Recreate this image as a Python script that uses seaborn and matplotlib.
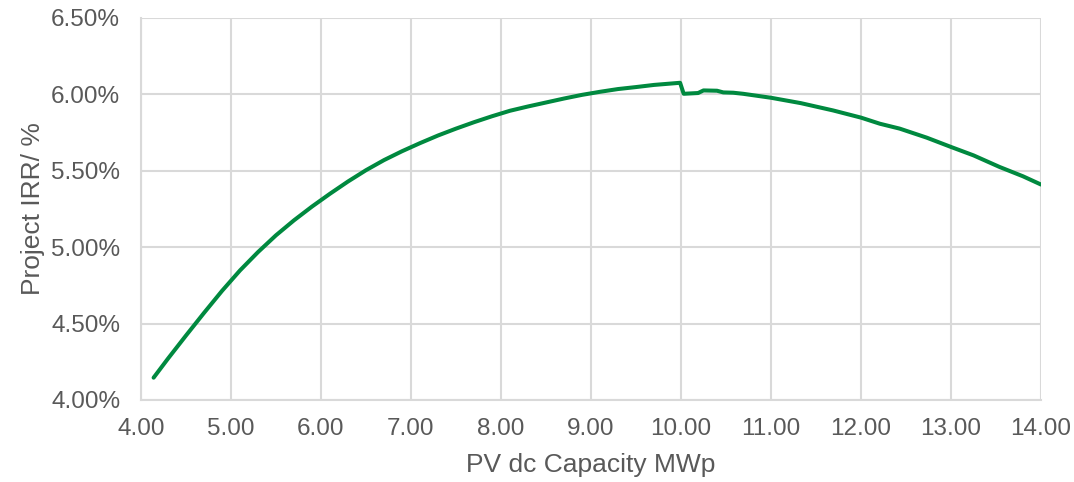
import matplotlib
matplotlib.use("Agg")
import matplotlib.pyplot as plt
import matplotlib.ticker as mticker
import seaborn as sns
import pandas as pd

capacity_mwp = [4.14, 4.30, 4.50, 4.70, 4.90, 5.10, 5.30, 5.50, 5.70, 5.90,
                6.10, 6.30, 6.50, 6.70, 6.90, 7.10, 7.30, 7.50, 7.70, 7.90,
                8.10, 8.30, 8.50, 8.70, 8.90, 9.10, 9.30, 9.50, 9.70, 9.99,
                10.03, 10.19, 10.25, 10.40, 10.47, 10.58, 10.69, 11.00, 11.33,
                11.69, 12.00, 12.21, 12.43, 12.73, 13.00, 13.25, 13.54, 13.80,
                14.00]
irr_pct = [4.146, 4.271, 4.422, 4.570, 4.714, 4.848, 4.968, 5.078, 5.176, 5.266,
           5.350, 5.430, 5.504, 5.570, 5.628, 5.681, 5.731, 5.776, 5.818, 5.857,
           5.893, 5.921, 5.947, 5.973, 5.997, 6.017, 6.035, 6.048, 6.062, 6.076,
           6.004, 6.009, 6.026, 6.024, 6.013, 6.011, 6.004, 5.978, 5.943,
           5.895, 5.848, 5.808, 5.776, 5.717, 5.656, 5.601, 5.525, 5.464,
           5.410]

x_ticks = [4, 5, 6, 7, 8, 9, 10, 11, 12, 13, 14]
y_ticks = [4.0, 4.5, 5.0, 5.5, 6.0, 6.5]

df = pd.DataFrame({"cap": capacity_mwp, "irr": irr_pct})

sns.set_theme(style="white")
plt.rcParams['font.family'] = ['Liberation Sans', 'DejaVu Sans']

text_color = "#595959"
grid_color = "#d9d9d9"

fig = plt.figure(figsize=(10.74, 4.82), dpi=100)
ax = fig.add_axes([141/1074, 1 - 400/482, 900/1074, 382/482])

sns.lineplot(data=df, x="cap", y="irr", ax=ax, color="#00893f", linewidth=2.9,
             solid_capstyle="round", solid_joinstyle="round")

ax.set_xlim(4, 14)
ax.set_ylim(4.0, 6.5)
ax.set_xticks(x_ticks)
ax.set_yticks(y_ticks)
ax.xaxis.set_major_formatter(mticker.FormatStrFormatter("%.2f"))
ax.yaxis.set_major_formatter(mticker.FuncFormatter(lambda v, p: f"{v:.2f}%"))

ax.grid(True, color=grid_color, linewidth=1.5)
ax.set_axisbelow(True)
for side in ["top", "right"]:
    ax.spines[side].set_visible(False)
for side in ["left", "bottom"]:
    ax.spines[side].set_color(grid_color)
    ax.spines[side].set_linewidth(1.5)

ax.tick_params(axis="both", length=0, labelsize=17.5, colors=text_color)
ax.tick_params(axis="x", pad=13)
ax.tick_params(axis="y", pad=15)

ax.set_xlabel("PV dc Capacity MWp", fontsize=19, color=text_color, labelpad=9)
ax.set_ylabel("Project IRR/ %", fontsize=19, color=text_color, labelpad=4)

fig.savefig("out.png", dpi=100)
